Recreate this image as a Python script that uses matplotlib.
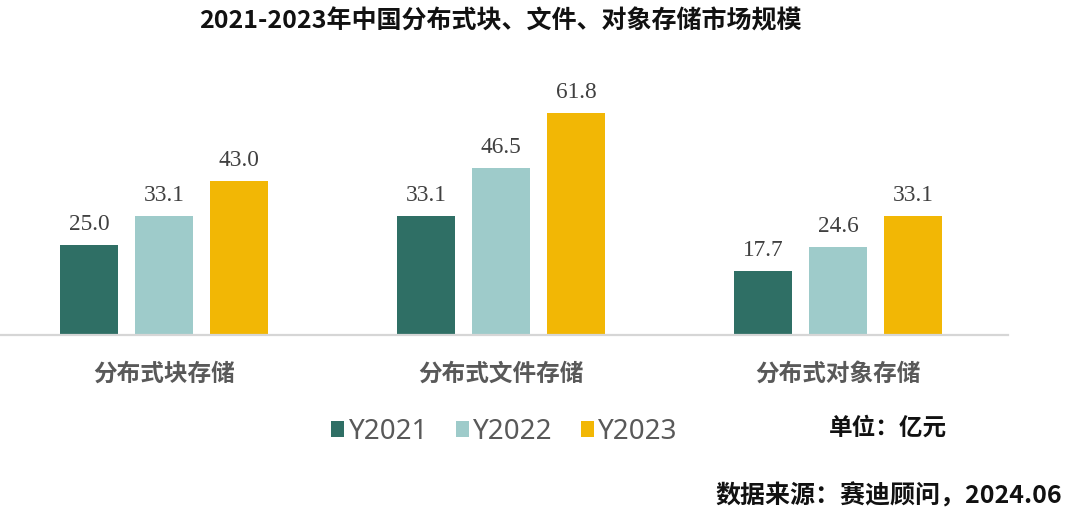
import matplotlib
matplotlib.use("Agg")
import matplotlib.pyplot as plt
import numpy as np

plt.rcParams['font.family'] = ['Noto Sans CJK SC', 'DejaVu Sans']

categories = ["分布式块存储", "分布式文件存储", "分布式对象存储"]
series_names = ["Y2021", "Y2022", "Y2023"]
y2021 = [25.0, 33.1, 17.7]
y2022 = [33.1, 46.5, 24.6]
y2023 = [43.0, 61.8, 33.1]
series_values = [y2021, y2022, y2023]
colors = ["#2f6f65", "#9ecbca", "#f2b705"]

title = "2021-2023年中国分布式块、文件、对象存储市场规模"
unit_text = "单位：亿元"
source_text = "数据来源：赛迪顾问，2024.06"

W, H = 1080, 532
fig = plt.figure(figsize=(W / 100, H / 100), dpi=100)
fig.patch.set_facecolor("white")

# axes placement in pixel terms
base_y = 335
ymax = 70
px_per_unit = 3.59
top_y = base_y - ymax * px_per_unit
ax = fig.add_axes([0, 1 - base_y / H, 1008 / W, (base_y - top_y) / H])

x = np.arange(len(categories))
offset = 75 / 337
width = 58 / 337
bars = []
for i, (name, vals, c) in enumerate(zip(series_names, series_values, colors)):
    b = ax.bar(x + (i - 1) * offset, vals, width, color=c, label=name, zorder=2)
    bars.append(b)
    for xi, v in zip(x + (i - 1) * offset, vals):
        ax.annotate(f"{v:.1f}", (xi, v), xytext=(0, 10.8), textcoords="offset points",
                    ha="center", va="baseline", fontsize=16.8,
                    family=["Liberation Serif", "DejaVu Serif"], color="#404040")

ax.set_xlim(-164 / 337, 2 + (1008 - 838) / 337)
ax.set_ylim(0, ymax)
for s in ["top", "right", "left"]:
    ax.spines[s].set_visible(False)
ax.spines["bottom"].set_color("#d6d6d6")
ax.spines["bottom"].set_linewidth(1.6)
ax.set_yticks([])
ax.set_xticks(x)
ax.set_xticklabels(categories, fontsize=17, fontweight="bold", color="#595959")
ax.tick_params(axis="x", length=0, pad=19)

fig.text(500 / W, 1 - 21 / H, title, ha="center", va="center", fontsize=18,
         fontweight="bold", color="#111111")

fig.legend(handles=bars, labels=series_names, loc="center left",
           bbox_to_anchor=(331 / W, 1 - 432 / H), frameon=False, ncol=3,
           prop={"family": ["Noto Sans", "DejaVu Sans"], "size": 20},
           labelcolor="#595959", handlelength=0.48, handleheight=0.48,
           handletextpad=0.15, columnspacing=1.0, borderpad=0, borderaxespad=0)

fig.text(888 / W, 1 - 428 / H, unit_text, ha="center", va="center", fontsize=17,
         fontweight="bold", color="#111111")
fig.text(1062 / W, 1 - 496 / H, source_text, ha="right", va="center", fontsize=18,
         fontweight="bold", color="#111111")

fig.savefig("out.png", dpi=100, facecolor="white")
